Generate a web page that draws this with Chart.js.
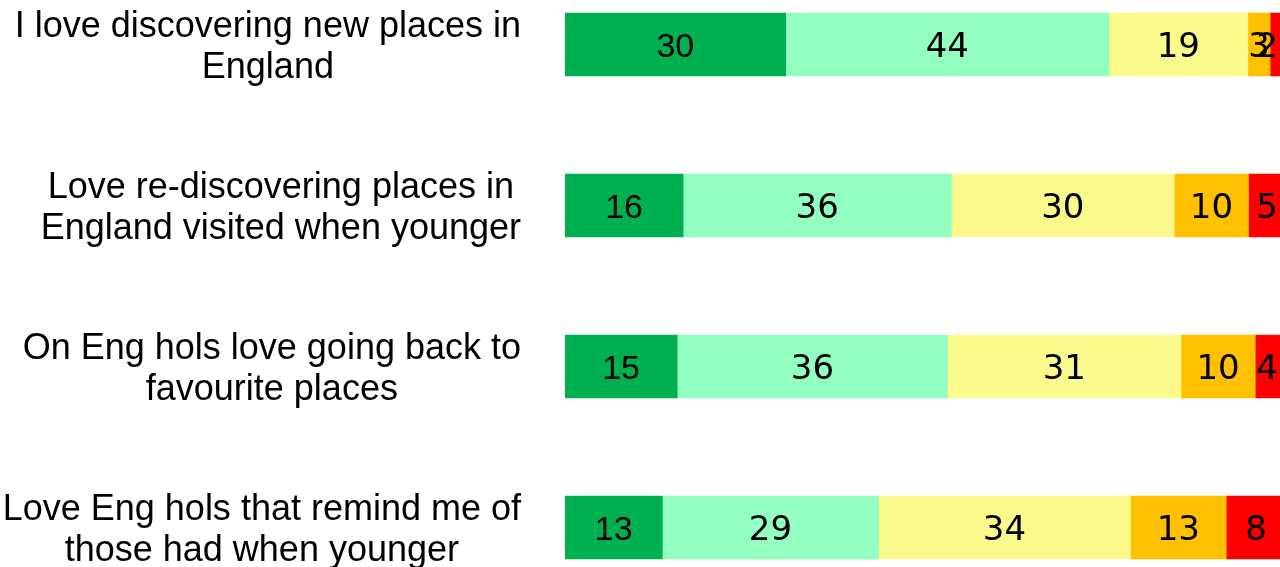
<!DOCTYPE html>
<html>
<head>
<meta charset="utf-8">
<script src="https://cdn.jsdelivr.net/npm/chart.js@4/dist/chart.umd.min.js"></script>
<style>
  html, body { margin: 0; padding: 0; background: #fff; overflow: hidden; }
  body { width: 1280px; height: 567px; position: relative; }
  #wrap { position: absolute; left: 0; top: -36px; width: 1308px; height: 644px; }
</style>
</head>
<body>
<div id="wrap"><canvas id="bars" width="1308" height="644"></canvas></div>
<script>
// statements (each one is a list of lines)
const statements = [
  ['I love discovering new places in', 'England'],
  ['Love re-discovering places in', 'England visited when younger'],
  ['On Eng hols love going back to', 'favourite places'],
  ['Love Eng hols that remind me of', 'those had when younger']
];

const seriesNames = ['Agree strongly', 'Agree slightly', 'Neither', 'Disagree slightly', 'Disagree strongly'];

// % per statement
const agreeStrongly    = [29.7, 15.9, 15.1, 13.1];
const agreeSlightly    = [43.5, 36.1, 36.4, 29.1];
const neither          = [18.7, 30.0, 31.4, 33.9];
const disagreeSlightly = [3.0, 10.0, 10.0, 12.9];
const disagreeStrongly = [2.0, 5.0, 4.0, 8.0];

const colours = ['#00B050', '#92FFC0', '#FAFA8C', '#FFC000', '#FF0000'];

const values = [agreeStrongly, agreeSlightly, neither, disagreeSlightly, disagreeStrongly];

// category labels: each one right aligned, lines centred on each other
const statementLabels = {
  id: 'statementLabels',
  afterDraw(chart) {
    const ctx = chart.ctx;
    const yScale = chart.scales.y;
    const right = yScale.right - 44;
    ctx.save();
    ctx.fillStyle = '#000';
    ctx.font = '36px "Liberation Sans", Arial, sans-serif';
    ctx.textAlign = 'center';
    ctx.textBaseline = 'alphabetic';
    statements.forEach((lines, i) => {
      const cy = yScale.getPixelForTick(i);
      const widest = Math.max(...lines.map(l => ctx.measureText(l).width));
      const cx = right - widest / 2;
      lines.forEach((line, j) => {
        const y = cy + (j - (lines.length - 1) / 2) * 41 + 13;
        ctx.fillText(line, cx, y);
      });
    });
    ctx.restore();
  }
};

// numbers in the middle of each segment
const segmentLabels = {
  id: 'segmentLabels',
  afterDatasetsDraw(chart) {
    const ctx = chart.ctx;
    const maxX = window.innerWidth;
    ctx.save();
    ctx.fillStyle = '#000';
    ctx.textAlign = 'center';
    ctx.textBaseline = 'alphabetic';
    chart.data.datasets.forEach((ds, d) => {
      const meta = chart.getDatasetMeta(d);
      ctx.font = d === 0 ? '34px "Liberation Sans", Arial, sans-serif' : '34px "DejaVu Sans", Verdana, sans-serif';
      meta.data.forEach((bar, i) => {
        const p = bar.getProps(['x', 'base', 'y'], true);
        const txt = String(Math.round(ds.data[i]));
        const w = ctx.measureText(txt).width;
        let cx = (p.x + p.base) / 2;
        if (cx + w / 2 > maxX - 2) cx = maxX - 2 - w / 2;
        ctx.fillText(txt, cx, p.y + 12.3);
      });
    });
    ctx.restore();
  }
};

const data = {
  labels: statements,
  datasets: seriesNames.map((name, i) => ({
    label: name,
    data: values[i],
    backgroundColor: colours[i],
    borderWidth: 0,
    barThickness: 63
  }))
};

const config = {
  type: 'bar',
  data: data,
  options: {
    indexAxis: 'y',
    responsive: false,
    animation: false,
    devicePixelRatio: 1,
    layout: { padding: 0 },
    plugins: {
      legend: { display: false },
      tooltip: { enabled: false }
    },
    scales: {
      x: {
        stacked: true,
        min: 0,
        max: 100,
        display: false
      },
      y: {
        stacked: true,
        grid: { display: false },
        border: { display: false },
        ticks: { display: false },
        afterFit(scale) { scale.width = 565; }
      }
    }
  },
  plugins: [statementLabels, segmentLabels]
};

new Chart(document.getElementById('bars').getContext('2d'), config);
</script>
</body>
</html>
